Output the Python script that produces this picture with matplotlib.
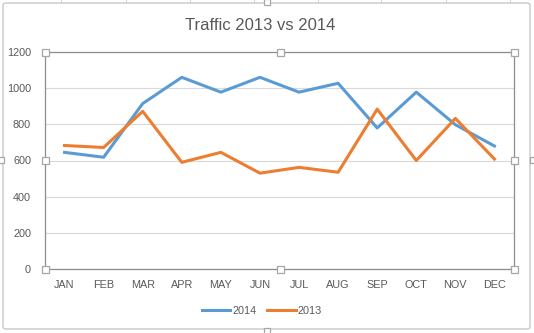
import matplotlib.pyplot as plt
from matplotlib.patches import FancyBboxPatch, Rectangle
from matplotlib.lines import Line2D

months = ['JAN', 'FEB', 'MAR', 'APR', 'MAY', 'JUN', 'JUL', 'AUG', 'SEP', 'OCT', 'NOV', 'DEC']
traffic_2014 = [645, 618, 915, 1060, 978, 1060, 978, 1027, 780, 978, 798, 680]
traffic_2013 = [683, 672, 872, 590, 645, 530, 562, 535, 884, 600, 833, 608]

W, H = 534, 333
blue = '#5B9BD5'
orange = '#ED7D31'
txt = '#595959'

plt.rcParams['font.family'] = ['Liberation Sans', 'DejaVu Sans']

fig = plt.figure(figsize=(W / 100, H / 100), dpi=100)


def fx(px):
    return px / W


def fy(py):
    return 1 - py / H


# spreadsheet strip behind the chart
for x in [61, 126, 190, 254, 318, 381, 446, 510]:
    fig.add_artist(Line2D([fx(x), fx(x)], [fy(0), fy(4)], color='#d4d4d4', lw=0.8, zorder=-10))

# chart border
fig.add_artist(FancyBboxPatch((fx(3), fy(329)), fx(527), 326 / H,
                              boxstyle='round,pad=0,rounding_size=0.006',
                              transform=fig.transFigure, fc='white', ec='#c8c8c8', lw=1.0,
                              zorder=-5))

ax = fig.add_axes([fx(45), fy(269), fx(469), 217 / H])
ax.set_facecolor('none')
x = list(range(len(months)))
ax.plot(x, traffic_2014, color=blue, lw=2.2, label='2014', solid_joinstyle='round')
ax.plot(x, traffic_2013, color=orange, lw=2.2, label='2013', solid_joinstyle='round')

ax.set_xlim(-0.5, 11.5)
ax.set_ylim(0, 1200)
ax.set_yticks(range(0, 1201, 200))
ax.set_xticks(x)
ax.set_xticklabels(months)
ax.grid(axis='y', color='#d9d9d9', lw=0.8)
ax.set_axisbelow(True)
ax.tick_params(length=0, labelsize=7.8, colors=txt, pad=8)
ax.tick_params(axis='y', pad=10)
for s in ax.spines.values():
    s.set_color('#8c8c8c')
    s.set_linewidth(0.9)

fig.text(fx(260), fy(25), 'Traffic 2013 vs 2014', ha='center', va='center',
         fontsize=12, color=txt)

leg = fig.legend(loc='center', bbox_to_anchor=(fx(262), fy(311)), ncol=2, frameon=False,
                 fontsize=7.8, handlelength=2.6, handletextpad=0.2, columnspacing=1.0)
for t in leg.get_texts():
    t.set_color(txt)


# selection handles
def handle(px, py, size=7):
    fig.add_artist(Rectangle((fx(px - size / 2), fy(py + size / 2)), size / W, size / H,
                             transform=fig.transFigure, fc='white', ec='#a6a6a6', lw=0.9,
                             zorder=10))


for px, py in [(45, 52), (280, 52), (514, 52), (45, 160), (514, 160),
               (45, 269), (280, 269), (514, 269)]:
    handle(px, py)
for px, py in [(267, 2), (267, 331), (1, 160), (533, 160)]:
    handle(px, py, 6)

fig.savefig('out.png', dpi=100)
